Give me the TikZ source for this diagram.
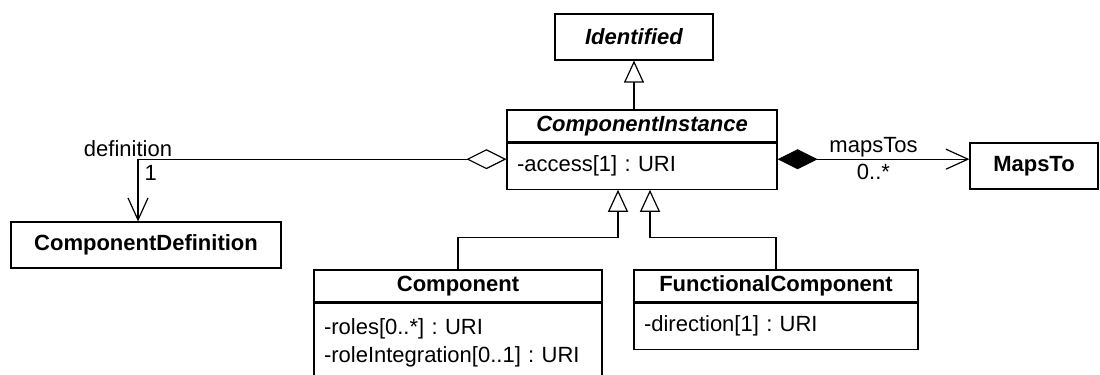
\documentclass[tikz,border=0pt]{standalone}
\usepackage{fontspec}
\setmainfont{Liberation Sans}
\usetikzlibrary{arrows.meta,positioning}

\begin{document}
\frenchspacing
\begin{tikzpicture}[x=0.5pt, y=-0.5pt, line width=0.6pt,
  font=\fontsize{11}{14}\selectfont,
  cls/.style={draw, fill=white, inner sep=0pt, font=\fontsize{11}{14}\selectfont\bfseries},
  abscls/.style={cls, font=\fontsize{11}{14}\selectfont\bfseries\itshape},
  attr/.style={draw, fill=white, anchor=north, align=left, inner xsep=5pt, inner ysep=0pt, text width=#1},
  gen/.style={-{Triangle[open,length=11pt,width=10pt]}},
  aggr/.style={arrows={Diamond[open,length=20pt,width=10pt]}-{Straight Barb[length=11pt,width=10pt]}},
  compo/.style={arrows={Diamond[length=20pt,width=10pt]}-{Straight Barb[length=11pt,width=10pt]}}]
  \useasboundingbox (0,0) rectangle (1100,375);
  \clip (0,0) rectangle (1100,375);
  % classes
  \node[abscls, minimum width=79pt, minimum height=23pt] (ident) at (634,37) {Identified};
  \node[abscls, minimum width=135pt, minimum height=16pt] (inst) at (642,126) {ComponentInstance};
  \node[attr=125pt, minimum height=23pt] (instattr) at (inst.south) {-access[1] : URI};
  \node[cls, minimum width=135pt, minimum height=23pt] (def) at (146,245) {ComponentDefinition};
  \node[cls, minimum width=64pt, minimum height=23pt] (maps) at (1034,166) {MapsTo};
  \node[cls, minimum width=144pt, minimum height=16pt] (comp) at (458,286) {Component};
  \node[attr=134pt, minimum height=40pt] (compattr) at (comp.south) {-roles[0..*] : URI\\-roleIntegration[0..1] : URI};
  \node[cls, minimum width=142pt, minimum height=16pt] (func) at (776,286) {FunctionalComponent};
  \node[attr=132pt, minimum height=23pt] (funcattr) at (func.south) {-direction[1] : URI};
  % generalizations
  \draw[gen] (inst.north -| ident.south) -- (ident.south);
  \draw[gen] (comp.north) -- ++(0,-32) -| ([xshift=-8pt]ident.south |- instattr.south);
  \draw[gen] (func.north) -- ++(0,-32) -| ([xshift=8pt]ident.south |- instattr.south);
  % associations
  \coordinate (agg) at ([yshift=3.5pt]instattr.west);
  \coordinate (cmp) at ([yshift=3.5pt]instattr.east);
  \draw[aggr] (agg) -| ([xshift=-4pt]def.north)
    node[pos=0.5, above, xshift=-5pt, inner sep=1pt] {definition}
    node[pos=0.5, below right, inner sep=3pt] {1};
  \draw[compo] (cmp) -- (cmp -| maps.west)
    node[midway, above, inner sep=1pt] {mapsTos}
    node[midway, below, inner sep=2pt] {0..*};
\end{tikzpicture}
\end{document}
